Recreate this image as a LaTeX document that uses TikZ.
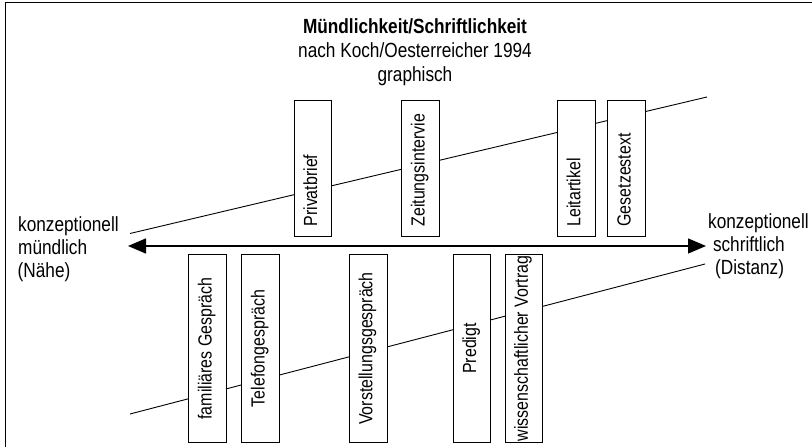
\documentclass[tikz,border=0pt]{standalone}
\usepackage{fontspec}
\setmainfont[FakeStretch=0.84]{Liberation Sans}
\usetikzlibrary{arrows.meta}
\begin{document}
\begin{tikzpicture}[x=1pt,y=-1pt,
  lbl/.style={font=\fontsize{20.5}{23}\selectfont, inner sep=0pt, anchor=base west},
  ttl/.style={font=\fontsize{20.5}{23}\selectfont, inner sep=0pt, anchor=base},
  topbox/.style={draw=black, fill=white, line width=0.8pt, minimum width=37.6pt, minimum height=135.6pt, inner sep=0pt},
  botbox/.style={draw=black, fill=white, line width=0.8pt, minimum width=37.6pt, minimum height=188.4pt, inner sep=0pt},
  vtext/.style={rotate=90, font=\fontsize{19}{22}\selectfont, inner sep=0pt},
  slopeline/.style={line width=0.9pt},
  frameline/.style={line width=0.9pt}
]
\useasboundingbox (0,0) rectangle (812,447);
% frame
\coordinate (fbl) at (5,447);
\coordinate (ftl) at (5,2);
\coordinate (ftr) at (812,2);
\draw[frameline] (fbl) -- (ftl) -- (ftr);

% title
\node[ttl, font=\bfseries\fontsize{20.5}{23}\selectfont] (t1) at (415,34) {Mündlichkeit/Schriftlichkeit};
\node[ttl] (t2) at (415,57.5) {nach Koch/Oesterreicher 1994};
\node[ttl] (t3) at (415,81) {graphisch};

% slope lines
\coordinate (u1) at (130,233.5);
\coordinate (u2) at (707,97);
\coordinate (d1) at (130,414);
\coordinate (d2) at (705,264);
\draw[slopeline] (u1) -- (u2);
\draw[slopeline] (d1) -- (d2);

% main arrow
\coordinate (al) at (128,246);
\coordinate (ar) at (706,246);
\draw[line width=1.4pt, {Triangle[length=18pt,width=15pt]}-{Triangle[length=18pt,width=15pt]}] (al) -- (ar);

% side labels
\node[lbl] (l1) at (18,231) {konzeptionell};
\node[lbl] (l2) at (18,254) {mündlich};
\node[lbl] (l3) at (17.5,277) {(Nähe)};
\node[lbl] (r1) at (708,228) {konzeptionell};
\node[lbl] (r2) at (712.8,251) {schriftlich};
\node[lbl] (r3) at (715,274) {(Distanz)};

% top boxes
\node[topbox] (b1) at (313,168.5) {};
\node[topbox] (b2) at (420.5,168.5) {};
\node[topbox] (b3) at (576.3,168.5) {};
\node[topbox] (b4) at (626.5,168.5) {};
\node[vtext, anchor=base west] (tb1) at ([xshift=4pt,yshift=10pt]b1.south) {Privatbrief};
\node[vtext, anchor=base west] (tb2) at ([xshift=4pt,yshift=10pt]b2.south) {Zeitungsintervie};
\node[vtext, anchor=base west] (tb3) at ([xshift=4pt,yshift=10pt]b3.south) {Leitartikel};
\node[vtext, anchor=base west] (tb4) at ([xshift=4pt,yshift=10pt]b4.south) {Gesetzestext};

% bottom boxes
\node[botbox] (c1) at (207.5,348.5) {};
\node[botbox] (c2) at (260.5,348.5) {};
\node[botbox] (c3) at (368.3,348.5) {};
\node[botbox] (c4) at (472,348.5) {};
\node[botbox] (c5) at (523.8,348.5) {};
\node[vtext, anchor=base] (tc1) at ([xshift=4pt]c1.center) {familiäres Gespräch};
\node[vtext, anchor=base] (tc2) at ([xshift=4pt]c2.center) {Telefongespräch};
\node[vtext, anchor=base] (tc3) at ([xshift=4pt]c3.center) {Vorstellungsgespräch};
\node[vtext, anchor=base] (tc4) at ([xshift=4pt]c4.center) {Predigt};
\node[vtext, anchor=base] (tc5) at ([xshift=4pt]c5.center) {wissenschaftlicher Vortrag};
\end{tikzpicture}
\end{document}
